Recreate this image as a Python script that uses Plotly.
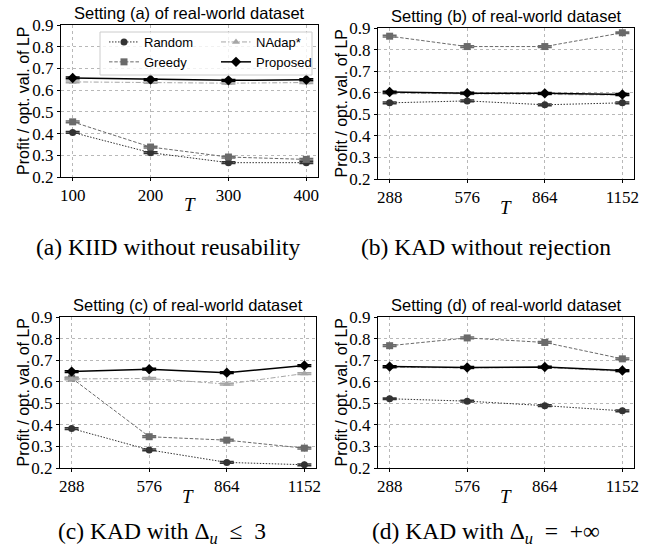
import plotly.graph_objects as go

# ---------------- data ----------------
T_a = [100, 200, 300, 400]
T_bcd = [288, 576, 864, 1152]
x_ticks_a = [100, 200, 300, 400]
x_ticks_bcd = [288, 576, 864, 1152]
y_ticks = [0.2, 0.3, 0.4, 0.5, 0.6, 0.7, 0.8, 0.9]

series_names = ["Random", "Greedy", "NAdap*", "Proposed"]

a_random = [0.405, 0.312, 0.266, 0.266]
a_greedy = [0.454, 0.338, 0.292, 0.281]
a_nadap = [0.638, 0.636, 0.632, 0.635]
a_proposed = [0.656, 0.649, 0.645, 0.648]

b_random = [0.553, 0.562, 0.544, 0.553]
b_greedy = [0.862, 0.814, 0.814, 0.878]
b_nadap = [0.598, 0.596, 0.594, 0.589]
b_proposed = [0.603, 0.598, 0.597, 0.592]

c_random = [0.383, 0.284, 0.226, 0.215]
c_greedy = [0.617, 0.345, 0.329, 0.292]
c_nadap = [0.613, 0.615, 0.589, 0.638]
c_proposed = [0.647, 0.658, 0.642, 0.675]

d_random = [0.521, 0.510, 0.489, 0.465]
d_greedy = [0.767, 0.803, 0.782, 0.706]
d_nadap = [0.667, 0.664, 0.666, 0.648]
d_proposed = [0.670, 0.666, 0.668, 0.652]

err_small = [0.004, 0.004, 0.004, 0.004]

panel_titles = ["Setting (a) of real-world dataset", "Setting (b) of real-world dataset",
                "Setting (c) of real-world dataset", "Setting (d) of real-world dataset"]
captions = ["(a) KIID without reusability", "(b) KAD without rejection",
            "(c) KAD with Δ<sub><i>u</i></sub>\u2002≤\u20023",
            "(d) KAD with Δ<sub><i>u</i></sub>\u2002=\u2002+∞"]
y_label = "Profit / opt. val. of LP"
x_label = "<i>T</i>"

# ---------------- styling ----------------
W, H = 652, 548
styles = {
    "Random": dict(color="#333333", dash="1.5px,1.5px", symbol="circle", size=7, width=1),
    "Greedy": dict(color="#6a6a6a", dash="3.5px,1.8px", symbol="square", size=7, width=1),
    "NAdap*": dict(color="#a6a6a6", dash="5px,2px,1.5px,2px", symbol="triangle-up", size=7, width=1),
    "Proposed": dict(color="#000000", dash="solid", symbol="diamond", size=8, width=1.5),
}
# pixel boxes: (left, right, top, bottom)
boxes = [(61, 318, 25, 177), (378, 634, 28, 179), (60, 316, 317, 468), (378, 634, 317, 468)]

panels = [
    (T_a, [a_random, a_greedy, a_nadap, a_proposed], x_ticks_a, [85, 415]),
    (T_bcd, [b_random, b_greedy, b_nadap, b_proposed], x_ticks_bcd, [244.8, 1195.2]),
    (T_bcd, [c_random, c_greedy, c_nadap, c_proposed], x_ticks_bcd, [244.8, 1195.2]),
    (T_bcd, [d_random, d_greedy, d_nadap, d_proposed], x_ticks_bcd, [244.8, 1195.2]),
]

fig = go.Figure()
serif = "Liberation Serif"
sans = "Liberation Sans"

for i, (xs, ys_list, xt, xr) in enumerate(panels):
    k = "" if i == 0 else str(i + 1)
    for name, ys in zip(series_names, ys_list):
        st = styles[name]
        fig.add_trace(go.Scatter(
            x=xs, y=ys, name=name, mode="lines+markers",
            xaxis="x" + k, yaxis="y" + k,
            line=dict(color=st["color"], dash=st["dash"], width=st["width"]),
            marker=dict(symbol=st["symbol"], size=st["size"], color=st["color"]),
            error_y=dict(type="data", array=err_small, color=st["color"], thickness=1.5, width=7),
            showlegend=(i == 0),
            legend="legend" if name in ("Random", "Greedy") else "legend2",
        ))
    l, r, t, b = boxes[i]
    axcommon = dict(showline=True, mirror=True, linecolor="black", linewidth=1,
                    showgrid=True, gridcolor="#b8b8b8", griddash="dot", gridwidth=1,
                    ticks="outside", ticklen=3, tickcolor="black", zeroline=False,
                    tickfont=dict(family=serif, size=17, color="black"), automargin=False)
    fig.update_layout(**{
        "xaxis" + k: dict(domain=[l / W, r / W], anchor="y" + k, range=xr,
                          tickvals=xt, **axcommon),
        "yaxis" + k: dict(domain=[1 - b / H, 1 - t / H], anchor="x" + k, range=[0.2, 0.9],
                          tickvals=y_ticks, tickformat=".1f", **axcommon),
    })
    cx = (l + r) / 2 / W
    # panel title
    fig.add_annotation(text=panel_titles[i], xref="paper", yref="paper", x=cx, y=1 - (t - 1) / H,
                       xanchor="center", yanchor="bottom", showarrow=False,
                       font=dict(family=sans, size=16.5, color="black"))
    # y label
    fig.add_annotation(text=y_label, xref="paper", yref="paper", x=(l - 37) / W,
                       y=1 - (t + b) / 2 / H, textangle=-90, xanchor="center", yanchor="middle",
                       showarrow=False, font=dict(family=sans, size=16, color="black"))
    # x label
    fig.add_annotation(text=x_label, xref="paper", yref="paper", x=cx, y=1 - (b + 28) / H,
                       xanchor="center", yanchor="middle", showarrow=False,
                       font=dict(family=serif, size=19, color="black"))
    # caption
    ccx = [168, 486, 162, 486][i]
    ccy = [247, 247, 533, 533][i]
    fig.add_annotation(text=captions[i], xref="paper", yref="paper", x=ccx / W,
                       y=1 - ccy / H, xanchor="center", yanchor="middle", showarrow=False,
                       font=dict(family=serif, size=23.5, color="black"))

# legend box
fig.add_shape(type="rect", xref="paper", yref="paper", x0=100 / W, x1=312 / W,
              y0=1 - 75 / H, y1=1 - 32 / H, layer="above",
              line=dict(color="#cccccc", width=1), fillcolor="rgba(255,255,255,0.8)")

legcommon = dict(bgcolor="rgba(0,0,0,0)", borderwidth=0, font=dict(family=sans, size=13, color="black"),
                 xanchor="left", yanchor="top", itemwidth=30, tracegroupgap=0)
fig.update_layout(
    width=W, height=H, margin=dict(l=0, r=0, t=0, b=0),
    paper_bgcolor="white", plot_bgcolor="white",
    legend=dict(x=104 / W, y=1 - 27 / H, **legcommon),
    legend2=dict(x=216 / W, y=1 - 27 / H, **legcommon),
)

fig.write_html("out.html", config={"displayModeBar": False},
               post_script="document.body.style.margin='0';")
